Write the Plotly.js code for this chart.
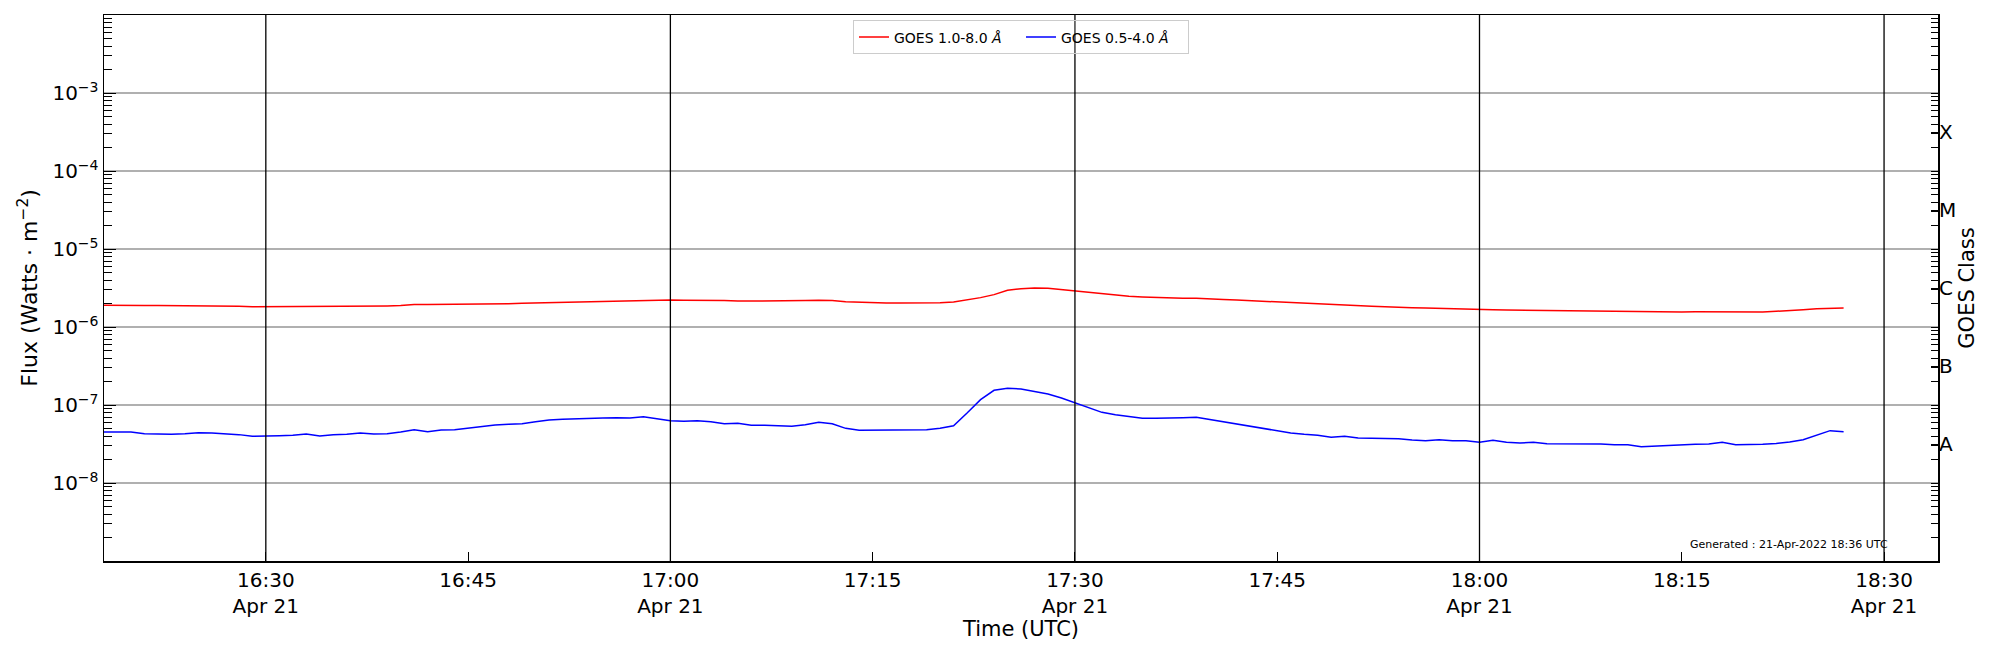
<!DOCTYPE html>
<html>
<head>
<meta charset="utf-8">
<script src="https://cdn.plot.ly/plotly-3.0.1.min.js"></script>
<style>html,body{margin:0;padding:0;background:#fff;}#chart{width:2000px;height:650px;}</style>
</head>
<body>
<div id="chart"></div>
<script>
const day = '2022-04-21';
const times = [
'16:18','16:19','16:20','16:21','16:22','16:23','16:24','16:25','16:26','16:27','16:28','16:29',
'16:30','16:31','16:32','16:33','16:34','16:35','16:36','16:37','16:38','16:39','16:40','16:41',
'16:42','16:43','16:44','16:45','16:46','16:47','16:48','16:49','16:50','16:51','16:52','16:53',
'16:54','16:55','16:56','16:57','16:58','16:59','17:00','17:01','17:02','17:03','17:04','17:05',
'17:06','17:07','17:08','17:09','17:10','17:11','17:12','17:13','17:14','17:15','17:16','17:17',
'17:18','17:19','17:20','17:21','17:22','17:23','17:24','17:25','17:26','17:27','17:28','17:29',
'17:30','17:31','17:32','17:33','17:34','17:35','17:36','17:37','17:38','17:39','17:40','17:41',
'17:42','17:43','17:44','17:45','17:46','17:47','17:48','17:49','17:50','17:51','17:52','17:53',
'17:54','17:55','17:56','17:57','17:58','17:59','18:00','18:01','18:02','18:03','18:04','18:05',
'18:06','18:07','18:08','18:09','18:10','18:11','18:12','18:13','18:14','18:15','18:16','18:17',
'18:18','18:19','18:20','18:21','18:22','18:23','18:24','18:25','18:26','18:27'
];
// GOES 1.0-8.0 A (W m^-2)
const xrsLong = [
1.90e-6,1.88e-6,1.88e-6,1.88e-6,1.88e-6,1.88e-6,1.88e-6,1.86e-6,1.86e-6,1.86e-6,1.84e-6,1.82e-6,
1.82e-6,1.82e-6,1.82e-6,1.82e-6,1.84e-6,1.84e-6,1.84e-6,1.86e-6,1.86e-6,1.86e-6,1.88e-6,1.95e-6,
1.95e-6,1.95e-6,1.95e-6,1.95e-6,1.97e-6,1.97e-6,1.99e-6,2.01e-6,2.03e-6,2.05e-6,2.07e-6,2.11e-6,
2.13e-6,2.15e-6,2.18e-6,2.18e-6,2.20e-6,2.20e-6,2.22e-6,2.20e-6,2.20e-6,2.18e-6,2.18e-6,2.15e-6,
2.15e-6,2.15e-6,2.15e-6,2.15e-6,2.18e-6,2.20e-6,2.18e-6,2.11e-6,2.07e-6,2.05e-6,2.03e-6,2.03e-6,
2.03e-6,2.03e-6,2.05e-6,2.09e-6,2.22e-6,2.38e-6,2.60e-6,2.95e-6,3.10e-6,3.16e-6,3.13e-6,3.01e-6,
2.89e-6,2.76e-6,2.62e-6,2.52e-6,2.47e-6,2.43e-6,2.38e-6,2.35e-6,2.33e-6,2.33e-6,2.31e-6,2.26e-6,
2.22e-6,2.18e-6,2.13e-6,2.09e-6,2.05e-6,1.99e-6,1.95e-6,1.92e-6,1.90e-6,1.88e-6,1.84e-6,1.82e-6,
1.81e-6,1.77e-6,1.75e-6,1.74e-6,1.72e-6,1.70e-6,1.69e-6,1.67e-6,1.65e-6,1.64e-6,1.64e-6,1.62e-6,
1.62e-6,1.60e-6,1.60e-6,1.59e-6,1.59e-6,1.57e-6,1.57e-6,1.56e-6,1.56e-6,1.56e-6,1.57e-6,1.57e-6,
1.56e-6,1.54e-6,1.54e-6,1.56e-6,1.59e-6,1.62e-6,1.67e-6,1.72e-6,1.75e-6,1.75e-6
];
// GOES 0.5-4.0 A (W m^-2)
const xrsShort = [
4.51e-8,4.51e-8,4.51e-8,4.29e-8,4.21e-8,4.21e-8,4.29e-8,4.42e-8,4.38e-8,4.29e-8,4.17e-8,3.97e-8,
4.04e-8,4.04e-8,4.09e-8,4.25e-8,4.00e-8,4.17e-8,4.21e-8,4.38e-8,4.25e-8,4.29e-8,4.51e-8,4.83e-8,
4.55e-8,4.78e-8,4.83e-8,5.07e-8,5.38e-8,5.54e-8,5.65e-8,5.76e-8,6.11e-8,6.42e-8,6.55e-8,6.68e-8,
6.75e-8,6.81e-8,6.88e-8,6.81e-8,7.09e-8,6.61e-8,6.30e-8,6.17e-8,6.30e-8,6.11e-8,5.76e-8,5.82e-8,
5.49e-8,5.49e-8,5.38e-8,5.33e-8,5.60e-8,5.99e-8,5.76e-8,5.02e-8,4.74e-8,4.74e-8,4.74e-8,4.74e-8,
4.83e-8,4.83e-8,5.02e-8,5.43e-8,7.90e-8,1.170e-7,1.542e-7,1.636e-7,1.604e-7,1.497e-7,1.384e-7,1.229e-7,
1.061e-7,9.24e-8,8.05e-8,7.52e-8,7.16e-8,6.75e-8,6.75e-8,6.75e-8,6.88e-8,6.95e-8,6.49e-8,6.05e-8,
5.71e-8,5.33e-8,4.92e-8,4.69e-8,4.38e-8,4.21e-8,4.09e-8,3.85e-8,3.97e-8,3.78e-8,3.74e-8,3.74e-8,
3.70e-8,3.56e-8,3.49e-8,3.59e-8,3.49e-8,3.49e-8,3.32e-8,3.52e-8,3.32e-8,3.26e-8,3.32e-8,3.19e-8,
3.19e-8,3.13e-8,3.16e-8,3.16e-8,3.10e-8,3.10e-8,2.92e-8,2.98e-8,3.01e-8,3.07e-8,3.13e-8,3.16e-8,
3.32e-8,3.10e-8,3.10e-8,3.13e-8,3.22e-8,3.35e-8,3.59e-8,4.09e-8,4.69e-8,4.55e-8
];
const xTickTimes = ['16:30','16:45','17:00','17:15','17:30','17:45','18:00','18:15','18:30'];
const xTickText = ['16:30<br>Apr 21','16:45','17:00<br>Apr 21','17:15','17:30<br>Apr 21','17:45','18:00<br>Apr 21','18:15','18:30<br>Apr 21'];
const halfHourMarks = ['16:30','17:00','17:30','18:00','18:30'];
const xRange = ['16:18','18:34'];
const fluxTicks = [1e-8,1e-7,1e-6,1e-5,1e-4,1e-3];
const fluxTickText = ['10<sup>\u22128</sup>','10<sup>\u22127</sup>','10<sup>\u22126</sup>','10<sup>\u22125</sup>','10<sup>\u22124</sup>','10<sup>\u22123</sup>'];
const classLabels = ['A','B','C','M','X'];
const classCenters = [Math.pow(10,-7.5),Math.pow(10,-6.5),Math.pow(10,-5.5),Math.pow(10,-4.5),Math.pow(10,-3.5)];
const seriesNames = ['GOES 1.0-8.0 <i>Å</i>','GOES 0.5-4.0 <i>Å</i>'];
const generatedText = 'Generated : 21-Apr-2022 18:36 UTC';

const ts = t => day + ' ' + t;
const minorLog = [];
for (let e = -9; e < -2; e++) for (let d = 1; d <= 9; d++) minorLog.push(d * Math.pow(10, e));
minorLog.push(1e-2);
const minorNoDecade = [];
for (let e = -9; e < -2; e++) for (let d = 2; d <= 9; d++) minorNoDecade.push(d * Math.pow(10, e));

const FONT = 'DejaVu Sans, sans-serif';
const traces = [
  {x: times.map(ts), y: xrsLong, type: 'scatter', mode: 'lines', name: seriesNames[0],
   line: {color: '#ff0000', width: 1.5}},
  {x: times.map(ts), y: xrsShort, type: 'scatter', mode: 'lines', name: seriesNames[1],
   line: {color: '#0000ff', width: 1.5}},
  {x: [], y: [], yaxis: 'y2', type: 'scatter', mode: 'lines', showlegend: false, hoverinfo: 'skip'}
];
const layout = {
  width: 2000, height: 650,
  margin: {l: 104, r: 62, t: 15, b: 89},
  paper_bgcolor: '#fff', plot_bgcolor: '#fff',
  font: {family: FONT, size: 20, color: '#000'},
  showlegend: true,
  legend: {orientation: 'h', x: 0.5, xanchor: 'center', y: 0.99, yanchor: 'top',
    bgcolor: 'rgba(255,255,255,0.15)', bordercolor: '#cccccc', borderwidth: 1,
    font: {family: FONT, size: 14, color: '#000'},
    entrywidth: 122, entrywidthmode: 'pixels'},
  xaxis: {type: 'date', range: xRange.map(ts), tickmode: 'array',
    tickvals: xTickTimes.map(ts), ticktext: xTickText,
    ticks: 'inside', ticklen: 9, tickwidth: 1, tickcolor: '#000',
    showline: true, linecolor: '#000', linewidth: 1.5, mirror: true,
    showgrid: false, zeroline: false, tickfont: {size: 20},
    title: {text: 'Time (UTC)', font: {size: 21}, standoff: 4}},
  yaxis: {type: 'log', range: [-9, -2], tickmode: 'array', tickvals: fluxTicks, ticktext: fluxTickText,
    ticks: 'inside', ticklen: 12, tickwidth: 1, tickcolor: '#000',
    showline: true, linecolor: '#000', linewidth: 1.5, mirror: true,
    showgrid: true, gridcolor: '#b0b0b0', gridwidth: 1.3, zeroline: false,
    tickfont: {size: 20},
    minor: {tickmode: 'array', tickvals: minorNoDecade, ticks: 'inside', ticklen: 8, tickwidth: 1, tickcolor: '#000', showgrid: false},
    title: {text: 'Flux (Watts\u00a0·\u00a0m<sup>\u22122</sup>)', font: {size: 22}, standoff: 8}},
  yaxis2: {type: 'log', range: [-9, -2], overlaying: 'y', side: 'right', anchor: 'x',
    tickmode: 'array', tickvals: classCenters, ticktext: classLabels,
    ticks: 'inside', ticklen: 7, tickwidth: 1, tickcolor: '#000',
    showline: false, showgrid: false, zeroline: false, tickfont: {size: 20},
    minor: {tickmode: 'array', tickvals: minorLog, ticks: 'inside', ticklen: 7, tickwidth: 1, tickcolor: '#000', showgrid: false},
    title: {text: 'GOES Class', font: {size: 21}, standoff: 4}},
  shapes: halfHourMarks.map(t => ({type: 'line', xref: 'x', yref: 'paper', x0: ts(t), x1: ts(t), y0: 0, y1: 1,
    line: {color: '#000', width: 1.3}, layer: 'above'})),
  annotations: [{text: generatedText, xref: 'paper', yref: 'paper', x: 0.9736, y: 0.03,
    xanchor: 'right', yanchor: 'middle', showarrow: false, font: {family: FONT, size: 11, color: '#000'}}]
};
Plotly.newPlot('chart', traces, layout, {staticPlot: true, displayModeBar: false});
</script>
</body>
</html>
